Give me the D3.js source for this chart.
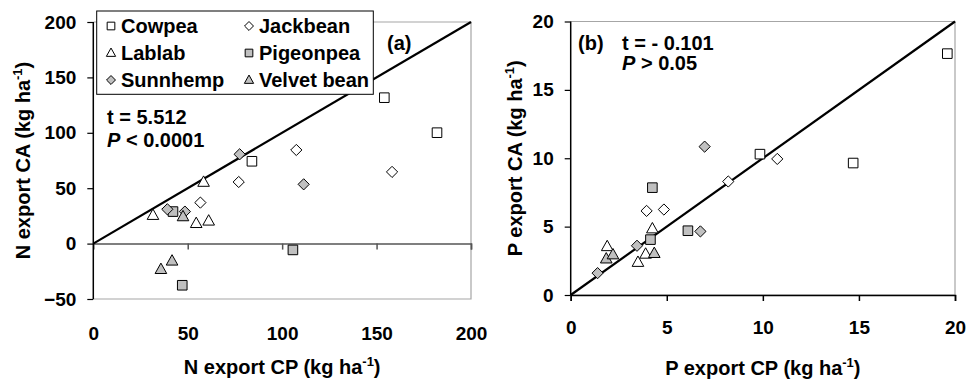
<!DOCTYPE html>
<html>
<head>
<meta charset="utf-8">
<script src="https://cdn.jsdelivr.net/npm/d3@7"></script>
<style>
  html, body { margin: 0; padding: 0; background: #fff; }
  svg { display: block; }
  text { font-family: "Liberation Sans", Arial, sans-serif; font-weight: bold; fill: #000; }
</style>
</head>
<body>
<svg id="chart" width="968" height="380"></svg>
<script>
// Species shown in both panels (legend order)
const species = ["Cowpea", "Jackbean", "Lablab", "Pigeonpea", "Sunnhemp", "Velvet bean"];

// Panel (a): N export, [CP, CA] in kg/ha
const nCowpea     = [[154.1, 131.7], [182.0, 100.1], [84.0, 74.3]];
const nJackbean   = [[107.5, 84.5], [158.2, 64.7], [77.0, 55.6], [56.7, 37.0]];
const nLablab     = [[58.4, 55.5], [31.6, 25.6], [54.5, 18.3], [61.1, 20.5]];
const nPigeonpea  = [[42.2, 28.9], [105.7, -5.7], [47.1, -37.6]];
const nSunnhemp   = [[77.5, 80.6], [111.4, 53.5], [39.2, 31.0], [48.5, 28.9]];
const nVelvetbean = [[47.5, 24.4], [41.7, -15.6], [35.8, -23.2]];

// Panel (b): P export, [CP, CA] in kg/ha
const pCowpea     = [[9.85, 10.3], [14.7, 9.65], [19.6, 17.65]];
const pJackbean   = [[3.95, 6.15], [4.85, 6.25], [8.2, 8.3], [10.75, 9.95]];
const pLablab     = [[1.9, 3.55], [3.5, 2.4], [3.9, 3.0], [4.25, 4.85]];
const pPigeonpea  = [[4.25, 7.85], [4.15, 4.05], [6.1, 4.7]];
const pSunnhemp   = [[1.4, 1.6], [3.45, 3.6], [6.75, 4.65], [6.97, 10.85]];
const pVelvetbean = [[1.85, 2.65], [2.2, 2.95], [4.35, 3.05]];

// Axis ticks
const nXTicks = [0, 50, 100, 150, 200];
const nYTicks = [-50, 0, 50, 100, 150, 200];
const pXTicks = [0, 5, 10, 15, 20];
const pYTicks = [0, 5, 10, 15, 20];

// Paired t-test annotations
const nStats = ["t = 5.512", "< 0.0001"];
const pStats = ["t = - 0.101", "> 0.05"];

const GRAY = "#c0c0c0";
const FRAME = "#a6a6a6";

// marker style per species: shape + fill
const markerStyle = {
  "Cowpea":      { shape: "square",   fill: "#fff" },
  "Jackbean":    { shape: "diamond",  fill: "#fff" },
  "Lablab":      { shape: "triangle", fill: "#fff" },
  "Pigeonpea":   { shape: "square",   fill: GRAY },
  "Sunnhemp":    { shape: "diamond",  fill: GRAY },
  "Velvet bean": { shape: "triangle", fill: GRAY }
};

function shapePath(shape, s) {
  const p = d3.path();
  if (shape === "square") {
    const h = s * 0.48;
    p.rect(-h, -h, 2 * h, 2 * h);
  } else if (shape === "diamond") {
    const h = s * 0.56;
    p.moveTo(0, -h); p.lineTo(h, 0); p.lineTo(0, h); p.lineTo(-h, 0); p.closePath();
  } else {
    const w = s * 0.58, top = -s * 0.62, bot = s * 0.42;
    p.moveTo(0, top); p.lineTo(w, bot); p.lineTo(-w, bot); p.closePath();
  }
  return p.toString();
}

const svg = d3.select("#chart");

function superscriptTitle(g, base, x, y, rotate) {
  const t = g.append("text")
    .attr("text-anchor", "middle")
    .attr("font-size", 20)
    .attr("transform", `translate(${x},${y})` + (rotate ? " rotate(-90)" : ""));
  t.append("tspan").text(base);
  t.append("tspan").attr("font-size", 13).attr("dy", -8).text("-1");
  t.append("tspan").attr("dy", 8).text(")");
}

function drawPanel(cfg) {
  const g = svg.append("g");
  const x = d3.scaleLinear().domain(cfg.xDomain).range(cfg.xRange);
  const y = d3.scaleLinear().domain(cfg.yDomain).range(cfg.yRange);
  const [x0, x1] = cfg.xRange;
  const [yB, yT] = cfg.yRange;

  // light frame on top / right / bottom
  g.append("path")
    .attr("d", `M${x0},${yT}H${x1}V${yB}H${x0}`)
    .attr("fill", "none").attr("stroke", FRAME).attr("stroke-width", 1.2);

  // horizontal axis at zero with downward ticks
  const xAxis = d3.axisBottom(x).tickValues(cfg.xTicks.filter(v => cfg.zeroTick || v !== 0))
    .tickSize(6).tickFormat("");
  const xa = g.append("g").attr("transform", `translate(0,${y(0)})`).call(xAxis);
  xa.select(".domain").attr("stroke", cfg.zeroColor).attr("stroke-width", 1.5);
  xa.selectAll(".tick line").attr("stroke", cfg.zeroColor).attr("stroke-width", 1.5);

  // tick labels along the bottom of the plot
  const xLab = d3.axisBottom(x).tickValues(cfg.xTicks).tickSize(0).tickPadding(cfg.labelPad);
  const xl = g.append("g").attr("transform", `translate(0,${yB})`).call(xLab);
  xl.select(".domain").remove();
  xl.selectAll("text").attr("font-size", 19).attr("font-family", null);

  // vertical axis
  const yAxis = d3.axisLeft(y).tickValues(cfg.yTicks).tickSize(6).tickPadding(11);
  const ya = g.append("g").attr("transform", `translate(${x0},0)`).call(yAxis);
  ya.select(".domain").attr("stroke", "#000").attr("stroke-width", 1.5)
    .attr("d", `M0,${yB}V${yT}`);
  ya.selectAll(".tick line").attr("stroke", "#000").attr("stroke-width", 1.2);
  ya.selectAll("text").attr("font-size", 19).attr("font-family", null);

  // 1:1 line
  const lo = Math.max(cfg.xDomain[0], 0), hi = cfg.xDomain[1];
  g.append("line")
    .attr("x1", x(lo)).attr("y1", y(lo)).attr("x2", x(hi)).attr("y2", y(hi))
    .attr("stroke", "#000").attr("stroke-width", 2.2);

  // points
  cfg.series.forEach((pts, i) => {
    const st = markerStyle[species[i]];
    g.append("g").selectAll("path").data(pts).join("path")
      .attr("d", shapePath(st.shape, 10))
      .attr("transform", d => `translate(${x(d[0])},${y(d[1])})`)
      .attr("fill", st.fill).attr("stroke", "#000").attr("stroke-width", 1);
  });

  // axis titles
  superscriptTitle(g, cfg.xTitle, (x0 + x1) / 2, cfg.xTitleY, false);
  superscriptTitle(g, cfg.yTitle, cfg.yTitleX, (yB + yT) / 2, true);

  return { g, x, y };
}

// ---- Panel (a)
const a = drawPanel({
  xDomain: [0, 200], xRange: [93.3, 471],
  yDomain: [-50, 200], yRange: [299, 22],
  xTicks: nXTicks, yTicks: nYTicks, zeroColor: "#555", zeroTick: false, labelPad: 27.5,
  series: [nCowpea, nJackbean, nLablab, nPigeonpea, nSunnhemp, nVelvetbean],
  xTitle: "N export CP (kg ha", yTitle: "N export CA (kg ha",
  xTitleY: 374, yTitleX: 30
});

a.g.append("text").attr("x", 387).attr("y", 50).attr("font-size", 20).text("(a)");
a.g.append("text").attr("x", 107).attr("y", 124).attr("font-size", 20).text(nStats[0]);
const aP = a.g.append("text").attr("x", 107).attr("y", 147).attr("font-size", 20);
aP.append("tspan").attr("font-style", "italic").text("P");
aP.append("tspan").text(" " + nStats[1]);

// legend
const leg = a.g.append("g");
leg.append("rect").attr("x", 96.7).attr("y", 11).attr("width", 276.6).attr("height", 83.3)
  .attr("fill", "#fff").attr("stroke", "#000").attr("stroke-width", 1);
const legCol = d3.scaleOrdinal().domain([0, 1]).range([111, 249]);
const legRow = d3.scalePoint().domain([0, 1, 2]).range([26, 80]);
species.forEach((s, i) => {
  const st = markerStyle[s];
  const cx = legCol(i % 2), cy = legRow(Math.floor(i / 2));
  leg.append("path").attr("d", shapePath(st.shape, 8))
    .attr("transform", `translate(${cx},${cy})`)
    .attr("fill", st.fill).attr("stroke", "#000").attr("stroke-width", 1);
  leg.append("text").attr("x", cx + 10).attr("y", cy + 7).attr("font-size", 20).text(s);
});

// ---- Panel (b)
const b = drawPanel({
  xDomain: [0, 20], xRange: [570.7, 955],
  yDomain: [0, 20], yRange: [295, 21.5],
  xTicks: pXTicks, yTicks: pYTicks, zeroColor: "#000", zeroTick: true, labelPad: 26,
  series: [pCowpea, pJackbean, pLablab, pPigeonpea, pSunnhemp, pVelvetbean],
  xTitle: "P export CP (kg ha", yTitle: "P export CA (kg ha",
  xTitleY: 375, yTitleX: 522
});

b.g.append("text").attr("x", 578).attr("y", 50).attr("font-size", 20).text("(b)");
b.g.append("text").attr("x", 622).attr("y", 50).attr("font-size", 20).text(pStats[0]);
const bP = b.g.append("text").attr("x", 622).attr("y", 70).attr("font-size", 20);
bP.append("tspan").attr("font-style", "italic").text("P");
bP.append("tspan").text(" " + pStats[1]);
</script>
</body>
</html>
